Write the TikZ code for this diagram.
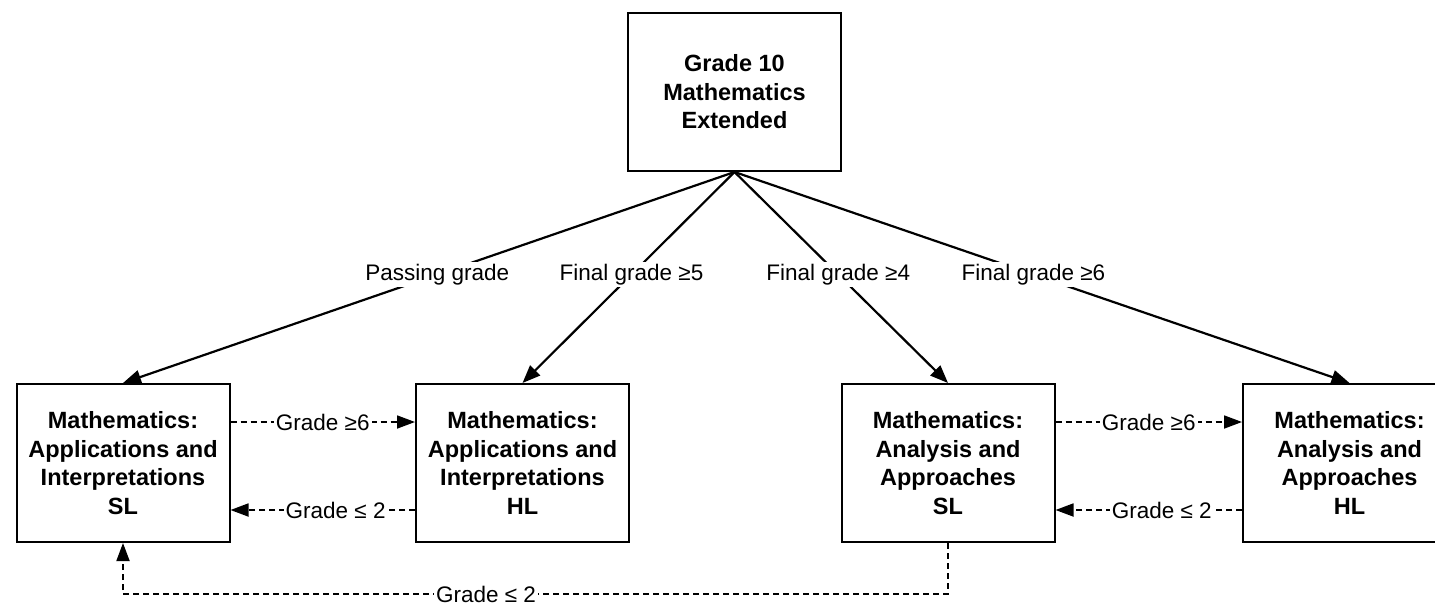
\documentclass[tikz,border=0pt]{standalone}
\usepackage{fontspec}
\setmainfont{Liberation Sans}
\usetikzlibrary{arrows.meta}

\begin{document}
\begin{tikzpicture}[x=1pt, y=-1pt,
  every node/.style={font=\fontsize{22.5}{28}\selectfont},
  course/.style={draw, line width=2pt, minimum width=213pt, minimum height=158pt,
    align=center, inner sep=0pt, font=\fontsize{23.5}{28.5}\selectfont\bfseries},
  route/.style={line width=2.2pt, -{Triangle[length=18pt,width=14pt]}},
  transfer/.style={line width=1.8pt, dash pattern=on 6pt off 4pt,
    -{Triangle[length=18pt,width=13pt]}},
  cond/.style={fill=white, inner sep=2pt}]
\useasboundingbox (0,0) rectangle (1435,607);
\node[course] (ext)  at (734.5,92) {Grade 10\\Mathematics\\Extended};
\node[course] (aisl) at (123,463)  {Mathematics:\\Applications and\\Interpretations\\SL};
\node[course] (aihl) at (522.5,463) {Mathematics:\\Applications and\\Interpretations\\HL};
\node[course] (aasl) at (948,463)  {Mathematics:\\Analysis and\\Approaches\\SL};
\node[course] (aahl) at (1349.5,463) {Mathematics:\\Analysis and\\Approaches\\HL};
\draw[route] (ext.south) -- node[pos=0.486, cond] {Passing grade} (aisl.north);
\draw[route] (ext.south) -- node[pos=0.486, cond] {Final grade ≥5} (aihl.north);
\draw[route] (ext.south) -- node[pos=0.486, cond] {Final grade ≥4} (aasl.north);
\draw[route] (ext.south) -- node[pos=0.486, cond] {Final grade ≥6} (aahl.north);
\draw[transfer] ([yshift=41pt]aisl.east) -- node[cond] {Grade ≥6} ([yshift=41pt]aihl.west);
\draw[transfer] ([yshift=-47pt]aihl.west) -- node[pos=0.43, cond] {Grade ≤ 2} ([yshift=-47pt]aisl.east);
\draw[transfer] ([yshift=41pt]aasl.east) -- node[cond] {Grade ≥6} ([yshift=41pt]aahl.west);
\draw[transfer] ([yshift=-47pt]aahl.west) -- node[pos=0.43, cond] {Grade ≤ 2} ([yshift=-47pt]aasl.east);
\draw[transfer] (aasl.south) -- ++(0,51) -| node[pos=0.28, cond] {Grade ≤ 2} (aisl.south);
\end{tikzpicture}
\end{document}
